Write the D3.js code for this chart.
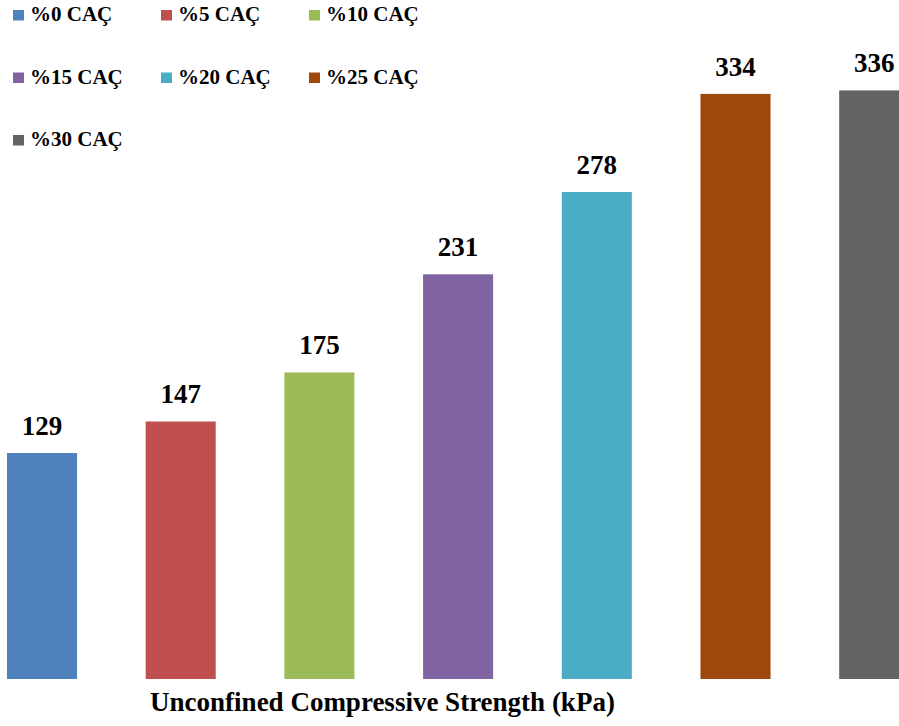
<!DOCTYPE html>
<html>
<head>
<meta charset="utf-8">
<script src="https://cdn.jsdelivr.net/npm/d3@7"></script>
<style>
  html, body { margin: 0; padding: 0; background: #ffffff; }
  svg { display: block; }
</style>
</head>
<body>
<svg id="chart" width="899" height="726"></svg>
<script>
// Series (one bar each) and their unconfined compressive strength values, kPa
const seriesNames = ["%0 CAÇ", "%5 CAÇ", "%10 CAÇ", "%15 CAÇ", "%20 CAÇ", "%25 CAÇ", "%30 CAÇ"];
const ucsValues = [129, 147, 175, 231, 278, 334, 336];
const seriesColors = ["#4F81BD", "#C0504D", "#9BBB59", "#8064A2", "#4BACC6", "#9E480E", "#636363"];
const axisTitle = "Unconfined Compressive Strength (kPa)";

const FONT = '"Liberation Serif"';
const svg = d3.select("#chart");

// Horizontal placement of the bars
const x = d3.scaleBand()
  .domain(seriesNames)
  .range([-27.35, 943.55])
  .paddingInner(0.495)
  .paddingOuter(0.2475);

// Vertical value scale, baseline at y = 679
const y = d3.scaleLinear()
  .domain([0, 387.6])
  .range([679, 0]);

const data = seriesNames.map((name, i) => ({ name, value: ucsValues[i], color: seriesColors[i] }));

// Bars
svg.append("g")
  .selectAll("rect")
  .data(data)
  .join("rect")
  .attr("x", d => x(d.name))
  .attr("y", d => y(d.value))
  .attr("width", x.bandwidth())
  .attr("height", d => y(0) - y(d.value))
  .attr("fill", d => d.color);

// Value labels above bars
svg.append("g")
  .selectAll("text")
  .data(data)
  .join("text")
  .attr("x", d => x(d.name) + x.bandwidth() / 2)
  .attr("y", d => y(d.value) - 18)
  .attr("text-anchor", "middle")
  .style("font-family", FONT)
  .style("font-weight", "bold")
  .style("font-size", "27px")
  .attr("fill", "#000")
  .text(d => d.value);

// Legend: three columns
const legend = svg.append("g");
const colStep = 148, rowBaselines = [21, 83.5, 146];
const items = legend.selectAll("g")
  .data(data)
  .join("g")
  .attr("transform", (d, i) => `translate(${13 + (i % 3) * colStep},${rowBaselines[Math.floor(i / 3)]})`);
items.append("rect")
  .attr("x", 0)
  .attr("y", -11)
  .attr("width", 11)
  .attr("height", 10.5)
  .attr("fill", d => d.color);
items.append("text")
  .attr("x", 17)
  .attr("y", 0)
  .style("font-family", FONT)
  .style("font-weight", "bold")
  .style("font-size", "21px")
  .attr("fill", "#000")
  .text(d => d.name);

// Category axis title
svg.append("text")
  .attr("x", 382.5)
  .attr("y", 711)
  .attr("text-anchor", "middle")
  .style("font-family", FONT)
  .style("font-weight", "bold")
  .style("font-size", "27px")
  .attr("fill", "#000")
  .text(axisTitle);
</script>
</body>
</html>
